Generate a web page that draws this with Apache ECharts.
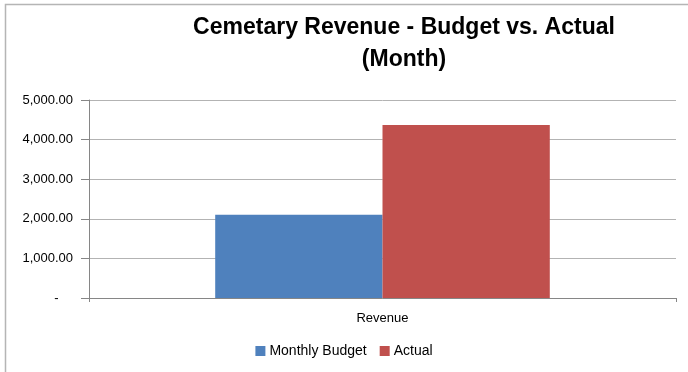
<!DOCTYPE html>
<html>
<head>
<meta charset="utf-8">
<script src="https://cdn.jsdelivr.net/npm/echarts@6/dist/echarts.min.js"></script>
<style>
  html, body { margin: 0; padding: 0; background: #fff; }
  #chart { width: 688px; height: 372px; }
</style>
</head>
<body>
<div id="chart"></div>
<script>
// Revenue figures for the month
const categories = ['Revenue'];
const seriesNames = ['Monthly Budget', 'Actual'];
const budgetValues = [2100];
const actualValues = [4370];
const yTicks = { min: 0, max: 5000, interval: 1000 };

const font = '"Liberation Sans", Arial, sans-serif';

function fmtAccounting(v) {
  if (v === 0) return '-    ';
  return v.toLocaleString('en-US', { minimumFractionDigits: 2, maximumFractionDigits: 2 });
}

const chart = echarts.init(document.getElementById('chart'), null, { renderer: 'canvas' });
chart.setOption({
  animation: false,
  backgroundColor: '#ffffff',
  title: {
    text: 'Cemetary Revenue - Budget vs. Actual\n(Month)',
    left: 399,
    top: 7,
    textAlign: 'center',
    textStyle: {
      fontFamily: font,
      fontWeight: 'bold',
      fontSize: 23,
      lineHeight: 32,
      color: '#000000'
    }
  },
  graphic: [{
    type: 'rect',
    shape: { x: 5.5, y: 4.5, width: 760, height: 420 },
    style: { fill: 'none', stroke: '#b5b5b5', lineWidth: 1.5 },
    silent: true,
    z: 0
  }],
  legend: {
    data: seriesNames,
    bottom: 9,
    left: 'center',
    itemWidth: 10,
    itemHeight: 10,
    itemGap: 13,
    icon: 'rect',
    textStyle: { fontFamily: font, fontSize: 14, color: '#000000', padding: [0, 0, 0, -1] }
  },
  grid: { left: 89, right: 12, top: 100, bottom: 74, containLabel: false },
  xAxis: {
    type: 'category',
    data: categories,
    axisLine: { lineStyle: { color: '#868686', width: 1 } },
    axisTick: { show: true, length: 4, alignWithLabel: false, lineStyle: { color: '#868686' } },
    axisLabel: { fontFamily: font, fontSize: 13, color: '#000000', margin: 14 }
  },
  yAxis: {
    type: 'value',
    min: yTicks.min,
    max: yTicks.max,
    interval: yTicks.interval,
    axisLine: { show: true, lineStyle: { color: '#868686', width: 1 } },
    axisTick: { show: true, length: 8, lineStyle: { color: '#868686' } },
    splitLine: { lineStyle: { color: '#b3b3b3', width: 1 } },
    axisLabel: {
      fontFamily: font,
      fontSize: 13,
      color: '#000000',
      margin: 16,
      formatter: fmtAccounting
    }
  },
  series: [
    {
      name: seriesNames[0],
      type: 'bar',
      data: budgetValues,
      itemStyle: { color: '#4F81BD' },
      barGap: '0%',
      barCategoryGap: '43%'
    },
    {
      name: seriesNames[1],
      type: 'bar',
      data: actualValues,
      itemStyle: { color: '#C0504D' },
      barGap: '0%',
      barCategoryGap: '43%'
    }
  ]
});
</script>
</body>
</html>
